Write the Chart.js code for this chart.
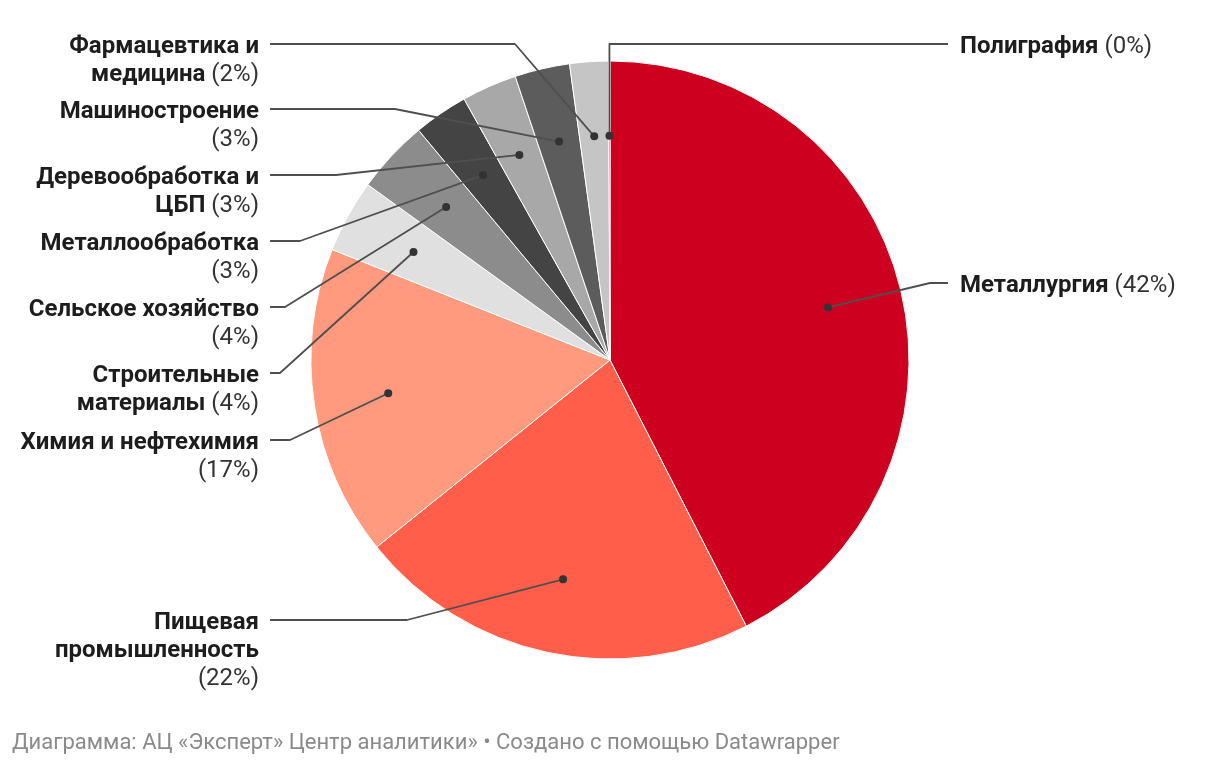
<!DOCTYPE html>
<html>
<head>
<meta charset="utf-8">
<script src="https://cdn.jsdelivr.net/npm/chart.js@4.4.1/dist/chart.umd.min.js"></script>
<style>
  html, body { margin: 0; padding: 0; background: #ffffff; }
  #wrap { position: relative; width: 1220px; height: 766px; overflow: hidden; }
  canvas { display: block; }
  #footer { position: absolute; left: 12px; top: 729px; font-family: Roboto, sans-serif; font-size: 22px; line-height: 26px; color: #8a8a8a; white-space: nowrap; }
</style>
</head>
<body>
<div id="wrap">
  <canvas id="chart" width="1220" height="766"></canvas>
  <div id="footer">Диаграмма: АЦ «Эксперт» Центр аналитики» • Создано с помощью Datawrapper</div>
</div>
<script>
// ---- data ----
const categories = [
  "Металлургия", "Пищевая промышленность", "Химия и нефтехимия",
  "Строительные материалы", "Сельское хозяйство", "Металлообработка",
  "Деревообработка и ЦБП", "Машиностроение", "Фармацевтика и медицина", "Полиграфия"
];
const shares = [42.45, 21.77, 16.77, 3.95, 3.97, 2.94, 2.98, 2.97, 2.08, 0.08];
// label text broken into lines as in the original; {p} marks the share
const labelLines = [
  ["Металлургия {p}"],
  ["Пищевая", "промышленность", "{p}"],
  ["Химия и нефтехимия", "{p}"],
  ["Строительные", "материалы {p}"],
  ["Сельское хозяйство", "{p}"],
  ["Металлообработка", "{p}"],
  ["Деревообработка и", "ЦБП {p}"],
  ["Машиностроение", "{p}"],
  ["Фармацевтика и", "медицина {p}"],
  ["Полиграфия {p}"]
];

// ---- styles / layout ----
const colors = ["#cd0020", "#ff5e4a", "#ff9a7e", "#e0e0e0", "#8c8c8c", "#444444", "#a8a8a8", "#5c5c5c", "#c5c5c5", "#333333"];
const labelSide = ["right", "left", "left", "left", "left", "left", "left", "left", "left", "right"];
const labelY = [283, 620, 440, 373, 307, 241, 175, 109, 44, 44];
const elbowX = [930, 407, 290, 280, 285, 300, 336, 395, 515, "dot"];
const LEFT_TEXT_RIGHT = 259, LEFT_LINE_START = 270;
const RIGHT_TEXT_LEFT = 960, RIGHT_LINE_END = 948;
const FONT_SIZE = 24, LINE_H = 28.4;

const labelPlugin = {
  id: 'dwLabels',
  afterDatasetsDraw(chart) {
    const ctx = chart.ctx;
    const meta = chart.getDatasetMeta(0);
    ctx.save();
    meta.data.forEach((arc, i) => {
      const p = arc.getProps(['x', 'y', 'startAngle', 'endAngle', 'outerRadius'], true);
      const mid = (p.startAngle + p.endAngle) / 2;
      const r = p.outerRadius * 0.75;
      const dx = p.x + Math.cos(mid) * r;
      const dy = p.y + Math.sin(mid) * r;
      const ly = labelY[i];
      // connector
      ctx.strokeStyle = '#4f4f4f';
      ctx.lineWidth = 1.8;
      ctx.lineJoin = 'round';
      ctx.beginPath();
      ctx.moveTo(dx, dy);
      const ex = elbowX[i] === 'dot' ? dx : elbowX[i];
      ctx.lineTo(ex, ly);
      if (labelSide[i] === 'left') ctx.lineTo(LEFT_LINE_START, ly);
      else ctx.lineTo(RIGHT_LINE_END, ly);
      ctx.stroke();
      // dot
      ctx.fillStyle = '#333333';
      ctx.beginPath();
      ctx.arc(dx, dy, 4, 0, Math.PI * 2);
      ctx.fill();
      // text
      const pct = '(' + Math.round(shares[i]) + '%)';
      ctx.textBaseline = 'alphabetic';
      labelLines[i].forEach((line, k) => {
        const baseY = ly + 8.5 + k * LINE_H;
        let boldPart = line, regPart = '';
        const idx = line.indexOf('{p}');
        if (idx >= 0) { boldPart = line.slice(0, idx); regPart = pct; }
        const fb = 'bold ' + FONT_SIZE + 'px Roboto';
        const fr = FONT_SIZE + 'px Roboto';
        ctx.font = fb; const wb = ctx.measureText(boldPart).width;
        ctx.font = fr; const wr = ctx.measureText(regPart).width;
        let x0 = labelSide[i] === 'left' ? LEFT_TEXT_RIGHT - wb - wr : RIGHT_TEXT_LEFT;
        ctx.textAlign = 'left';
        ctx.fillStyle = '#1d1d1d';
        ctx.font = fb; ctx.fillText(boldPart, x0, baseY);
        ctx.fillStyle = '#333333';
        ctx.font = fr; ctx.fillText(regPart, x0 + wb, baseY);
      });
    });
    ctx.restore();
  }
};

new Chart(document.getElementById('chart'), {
  type: 'pie',
  data: {
    labels: categories,
    datasets: [{
      data: shares,
      backgroundColor: colors,
      borderColor: '#ffffff',
      borderWidth: 1,
      hoverOffset: 0
    }]
  },
  options: {
    responsive: false,
    animation: false,
    devicePixelRatio: 1,
    layout: { padding: { top: 60.5, bottom: 106.5, left: 0, right: 0 } },
    plugins: { legend: { display: false }, tooltip: { enabled: false } }
  },
  plugins: [labelPlugin]
});
</script>
</body>
</html>
